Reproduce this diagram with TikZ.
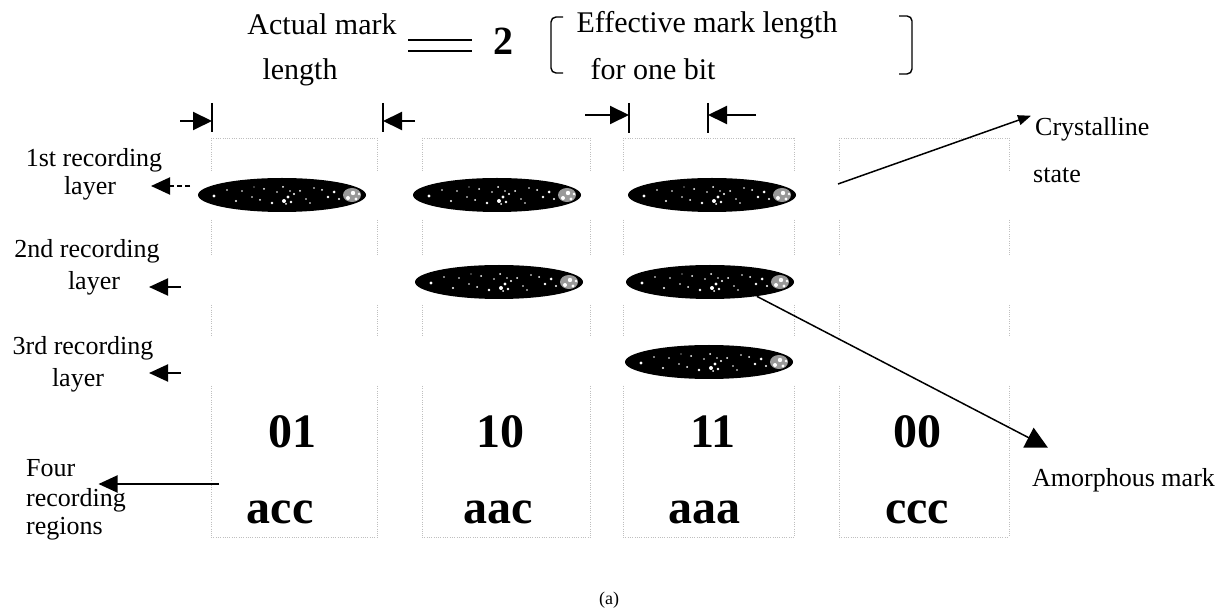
\documentclass[tikz,border=0pt]{standalone}
\usepackage{fontspec}
\setmainfont{Liberation Serif}
\usetikzlibrary{arrows.meta,shapes.geometric}
\begin{document}
\begin{tikzpicture}[x=1pt,y=-1pt,
  txt/.style={inner sep=0pt, anchor=base, font=\fontsize{26}{30}\selectfont},
  toptxt/.style={inner sep=0pt, anchor=base, font=\fontsize{30}{34}\selectfont},
  bignum/.style={inner sep=0pt, anchor=base, font=\fontsize{48}{52}\selectfont\bfseries},
  regionline/.style={draw=black!25, line width=0.9pt, dash pattern=on 1pt off 1.3pt},
  dimarrow/.style={line width=2pt, -{Triangle[length=19pt,width=18pt]}},
  dimbar/.style={line width=1.5pt},
  layerarrow/.style={line width=2pt, -{Triangle[length=19pt,width=17pt]}},
  brack/.style={line width=1.4pt, rounded corners=5pt},
  crysarrow/.style={line width=1.5pt, -{Triangle[length=13pt,width=10pt]}},
  amoarrow/.style={line width=1.5pt, -{Triangle[length=22pt,width=22pt]}},
  amark/.style={ellipse, fill=black, minimum width=168pt, minimum height=34pt, inner sep=0pt,
    path picture={
      \fill[black!40] ([shift={(70pt,0pt)}]path picture bounding box.center) ellipse (9pt and 7pt);
      \foreach \dx/\dy/\r in {-68/-1/1.7, -46/-6/1.2, -40/4/0.9, -30/-2/0.8, -22/-5/1.0, -18/6/1.0,
        -10/-8/1.3, -5/3/0.9, 2/-6/2.0, 6/-2/1.7, 9/-7/1.4, 12/1/1.2, 1/8/1.0, 18/4/1.0, 24/-4/0.9,
        32/7/0.8, 40/5/1.0, 46/-2/1.3, 52/3/1.5, 57/-4/1.2, 66/-3/2.0, 71/2/2.2, 74/-4/1.6, 77/1/1.4,
        -55/5/0.8, -28/8/0.7, 28/-8/0.8, 4/-9/1.0, 8/4/0.9}
        {\fill[white] ([shift={(\dx pt,\dy pt)}]path picture bounding box.center) circle (\r pt);}
    }},
]
\fill[white] (0,0) rectangle (1227,609);
\path[use as bounding box] (0,0) rectangle (1227,609);

% recording regions (dotted boxes)
\foreach \l/\r in {211/377, 422/590, 623/794, 839/1009}{
  \draw[regionline] (\l,138) -- (\r,138);
  \draw[regionline] (\l,537) -- (\r,537);
  \foreach \a/\b in {138/172, 220/255, 305/336, 386/537}{
    \draw[regionline] (\l,\a) -- (\l,\b);
    \draw[regionline] (\r,\a) -- (\r,\b);
  }
}

% top formula
\node[toptxt] (am1) at (322,35) {Actual mark};
\node[toptxt] (am2) at (300,80) {length};
\draw[line width=2pt] (408,40) -- (472,40);
\draw[line width=2pt] (408,51) -- (472,51);
\node[inner sep=0pt, anchor=base, font=\fontsize{40}{44}\selectfont\bfseries] (two) at (503,55) {2};
\draw[brack] (563,17) -- (551,17) -- (551,73) -- (563,73);
\node[toptxt] (ef1) at (707,33) {Effective mark length};
\node[toptxt] (ef2) at (653,80) {for one bit};
\draw[brack] (899,16) -- (912,16) -- (912,74) -- (899,74);

% dimension arrows
\coordinate (d1s) at (180,121); \coordinate (d1e) at (212,121);
\coordinate (d2s) at (415,121); \coordinate (d2e) at (383,121);
\coordinate (d3s) at (585,115); \coordinate (d3e) at (629,115);
\coordinate (d4s) at (756,115); \coordinate (d4e) at (708,115);
\draw[dimarrow] (d1s) -- (d1e);
\draw[dimarrow] (d2s) -- (d2e);
\draw[dimarrow] (d3s) -- (d3e);
\draw[dimarrow] (d4s) -- (d4e);
\draw[dimbar] (212,103) -- (212,132);
\draw[dimbar] (383,103) -- (383,132);
\draw[dimbar] (629,103) -- (629,133);
\draw[dimbar] (708,103) -- (708,133);

% amorphous marks
\node[amark] (m11) at (282,195) {};
\node[amark] (m21) at (497,195) {};
\node[amark] (m22) at (499,282) {};
\node[amark] (m31) at (712,195) {};
\node[amark] (m32) at (710,282) {};
\node[amark] (m33) at (709,362) {};

% layer labels
\node[txt] (l1a) at (94,167) {1st recording};
\node[txt] (l1b) at (90,195) {layer};
\node[txt] (l2a) at (87,258) {2nd recording};
\node[txt] (l2b) at (94,290) {layer};
\node[txt] (l3a) at (83,355) {3rd recording};
\node[txt] (l3b) at (78,387) {layer};
\coordinate (a1s) at (190,186); \coordinate (a1e) at (151,186);
\coordinate (a2s) at (181,287); \coordinate (a2e) at (149,287);
\coordinate (a3s) at (181,373); \coordinate (a3e) at (149,373);
\draw[layerarrow, dash pattern=on 5pt off 3pt] (a1s) -- (a1e);
\draw[layerarrow] (a2s) -- (a2e);
\draw[layerarrow] (a3s) -- (a3e);

% four recording regions
\node[txt, anchor=base west] (f1) at (26,477) {Four};
\node[txt, anchor=base west] (f2) at (26,507) {recording};
\node[txt, anchor=base west] (f3) at (26,535) {regions};
\coordinate (fs) at (219,484);
\coordinate (fe) at ([xshift=23pt]f1.east);
\draw[layerarrow] (fs) -- (fs -| fe);

% codes
\node[bignum] (n1) at (292,448) {01};
\node[bignum] (n2) at (500,448) {10};
\node[bignum] (n3) at (713,448) {11};
\node[bignum] (n4) at (917,448) {00};
\node[bignum] (c1) at (280,524) {acc};
\node[bignum] (c2) at (498,524) {aac};
\node[bignum] (c3) at (704,524) {aaa};
\node[bignum] (c4) at (917,524) {ccc};

% crystalline / amorphous
\node[txt, anchor=base west] (cr1) at (1035,136) {Crystalline};
\node[txt, anchor=base west] (cr2) at (1033,183) {state};
\coordinate (cs) at (838,184);
\draw[crysarrow] (cs) -- ([xshift=-4pt, yshift=2pt]cr1.north west);
\node[txt, anchor=base west] (amo) at (1032,487) {Amorphous mark};
\draw[amoarrow] (m32.-17) -- ([xshift=16pt, yshift=21pt]amo.north west);

\node[inner sep=0pt, anchor=base, font=\fontsize{18}{20}\selectfont] (cap) at (609,604) {(a)};
\end{tikzpicture}
\end{document}
